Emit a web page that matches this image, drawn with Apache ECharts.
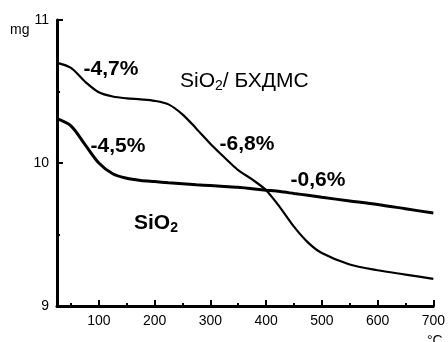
<!DOCTYPE html>
<html><head><meta charset="utf-8">
<script src="https://cdn.jsdelivr.net/npm/echarts@6/dist/echarts.min.js"></script>
<style>html,body{margin:0;padding:0;background:#fff}#c{width:448px;height:342px}</style>
</head><body><div id="c"></div>
<script>
// Temperature (°C)
const temps = [25, 50, 75, 100, 125, 150, 175, 200, 225, 250, 275, 300, 325, 350, 375, 400, 425, 450, 475, 500, 550, 600, 650, 700];
// Mass (mg), SiO2/БХДМС
const compositeMass = [10.70, 10.665, 10.57, 10.495, 10.465, 10.452, 10.445, 10.435, 10.41, 10.34, 10.24, 10.135, 10.04, 9.95, 9.885, 9.81, 9.69, 9.555, 9.445, 9.37, 9.29, 9.25, 9.22, 9.19];
// Mass (mg), SiO2
const silicaMass = [10.31, 10.26, 10.13, 10.0, 9.925, 9.893, 9.878, 9.87, 9.862, 9.855, 9.848, 9.842, 9.836, 9.83, 9.82, 9.81, 9.80, 9.787, 9.774, 9.76, 9.735, 9.71, 9.68, 9.65];
const xMajorTicks = [100, 200, 300, 400, 500, 600, 700];
const xMinorTicks = [50, 150, 250, 350, 450, 550, 650];
const yLabels = {9: '9', 10: '10', 11: '11'};
const annotations = ['-4,7%', '-4,5%', '-6,8%', '-0,6%'];
const curveNames = ['SiO2/ БХДМС', 'SiO2'];

const FONT = 'Liberation Sans, Arial, sans-serif';
const chart = echarts.init(document.getElementById('c'), null, {renderer: 'canvas'});
const axisCommon = {min: 25, max: 700, type: 'value', splitLine: {show: false}};
chart.setOption({
  animation: false,
  backgroundColor: '#fff',
  grid: {left: 57, right: 13, top: 20, bottom: 36},
  xAxis: [
    Object.assign({}, axisCommon, {
      position: 'bottom',
      axisLine: {show: true, lineStyle: {color: '#000', width: 3}},
      axisTick: {show: true, inside: true, length: 6, lineStyle: {color: '#000', width: 2}, customValues: xMajorTicks},
      axisLabel: {show: true, customValues: xMajorTicks, color: '#000', fontSize: 14, fontFamily: FONT, margin: 8}
    }),
    Object.assign({}, axisCommon, {
      position: 'bottom',
      axisLine: {show: false},
      axisTick: {show: true, inside: true, length: 3, lineStyle: {color: '#000', width: 2}, customValues: xMinorTicks},
      axisLabel: {show: false}
    })
  ],
  yAxis: {
    type: 'value', min: 9, max: 11, interval: 1,
    splitLine: {show: false},
    axisLine: {show: true, lineStyle: {color: '#000', width: 3}},
    axisTick: {show: true, inside: true, length: 6, lineStyle: {color: '#000', width: 2}},
    minorTick: {show: true, splitNumber: 2, length: 3, lineStyle: {color: '#000', width: 2}},
    axisLabel: {color: '#000', fontSize: 14, fontFamily: FONT, margin: 8, formatter: v => yLabels[v] || ''}
  },
  series: [
    {name: curveNames[0], type: 'line', smooth: 0.3, showSymbol: false, xAxisIndex: 0,
     lineStyle: {color: '#000', width: 2.2}, data: temps.map((t, i) => [t, compositeMass[i]])},
    {name: curveNames[1], type: 'line', smooth: 0.3, showSymbol: false, xAxisIndex: 0,
     lineStyle: {color: '#000', width: 3}, data: temps.map((t, i) => [t, silicaMass[i]])}
  ],
  graphic: [
    {type: 'text', x: 111, y: 69, style: {text: annotations[0], font: 'bold 21px ' + FONT, fill: '#000', align: 'center', verticalAlign: 'middle'}},
    {type: 'text', x: 118, y: 146, style: {text: annotations[1], font: 'bold 21px ' + FONT, fill: '#000', align: 'center', verticalAlign: 'middle'}},
    {type: 'text', x: 247, y: 144, style: {text: annotations[2], font: 'bold 21px ' + FONT, fill: '#000', align: 'center', verticalAlign: 'middle'}},
    {type: 'text', x: 318, y: 180, style: {text: annotations[3], font: 'bold 21px ' + FONT, fill: '#000', align: 'center', verticalAlign: 'middle'}},
    {type: 'text', x: 180, y: 70, style: {
      text: '{a|SiO}{s|2}{a|/ БХДМС}', align: 'left', verticalAlign: 'top',
      rich: {a: {fontSize: 21, fontFamily: FONT, fill: '#000', lineHeight: 23},
             s: {fontSize: 14, fontFamily: FONT, fill: '#000', lineHeight: 13, verticalAlign: 'bottom'}}}},
    {type: 'text', x: 134, y: 212, style: {
      text: '{a|SiO}{s|2}', align: 'left', verticalAlign: 'top',
      rich: {a: {fontSize: 21, fontWeight: 'bold', fontFamily: FONT, fill: '#000', lineHeight: 23},
             s: {fontSize: 14, fontWeight: 'bold', fontFamily: FONT, fill: '#000', lineHeight: 13, verticalAlign: 'bottom'}}}},
    {type: 'text', x: 10, y: 30, style: {text: 'mg', font: '14px ' + FONT, fill: '#000', align: 'left', verticalAlign: 'middle'}},
    {type: 'text', x: 427, y: 341, style: {text: '°C', font: '14px ' + FONT, fill: '#000', align: 'left', verticalAlign: 'middle'}}
  ]
});
</script></body></html>
